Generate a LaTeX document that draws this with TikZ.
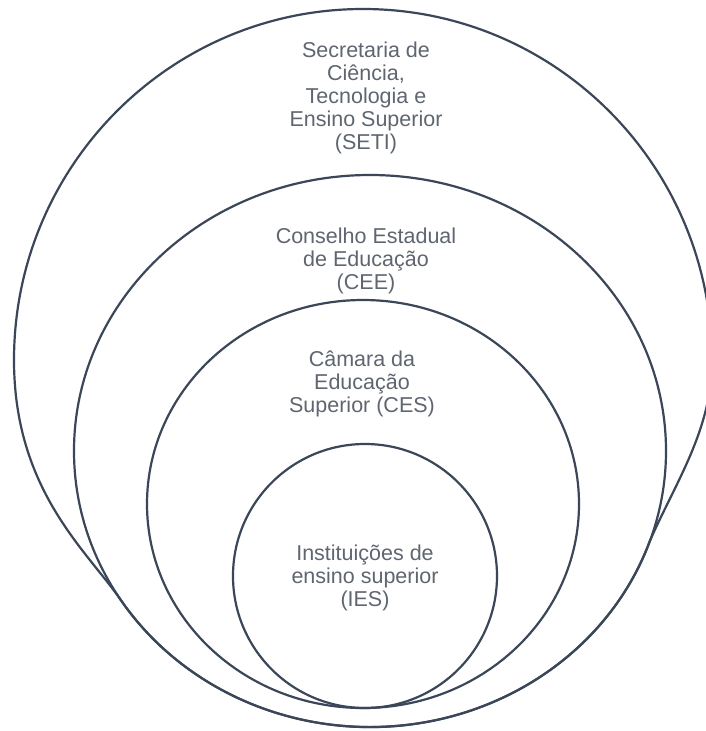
\documentclass[tikz,border=0pt]{standalone}
\usepackage{fontspec}
\setmainfont{Liberation Sans}
\definecolor{linec}{HTML}{3B4658}
\definecolor{textc}{HTML}{5F6670}
\begin{document}
\begin{tikzpicture}[x=1pt,y=-1pt,
  ring/.style={draw=linec,line width=2.2pt},
  lbl/.style={text=textc,font=\fontsize{21.5}{23}\selectfont,align=center,inner sep=0pt}]
\useasboundingbox[fill=white] (0,0) rectangle (706,731);
\begin{scope}
\clip (0,0) rectangle (706,731);
% outer ring (SETI)
\draw[ring] (14,360) arc[start angle=180,end angle=360,x radius=349,y radius=351]
  .. controls (712,430) and (675.6,482) .. (649.5,541.8)
  arc[start angle=19.2,end angle=147.3,x radius=296,y radius=276]
  .. controls (86.9,550.7) and (14,490) .. (14,360) -- cycle;
% CEE
\draw[ring] (370,451) ellipse[x radius=296,y radius=276];
% CES
\draw[ring] (363,504) ellipse[x radius=216,y radius=204];
% IES
\draw[ring] (365,576) circle[radius=132];
\end{scope}
\node[lbl] (seti) at (366,98) {Secretaria de\\Ciência,\\Tecnologia e\\Ensino Superior\\(SETI)};
\node[lbl] (cee) at (366,261) {Conselho Estadual\\de Educação\\(CEE)};
\node[lbl] (ces) at (362,383.5) {Câmara da\\Educação\\Superior (CES)};
\node[lbl] (ies) at (365,577.5) {Instituições de\\ensino superior\\(IES)};
\end{tikzpicture}
\end{document}
